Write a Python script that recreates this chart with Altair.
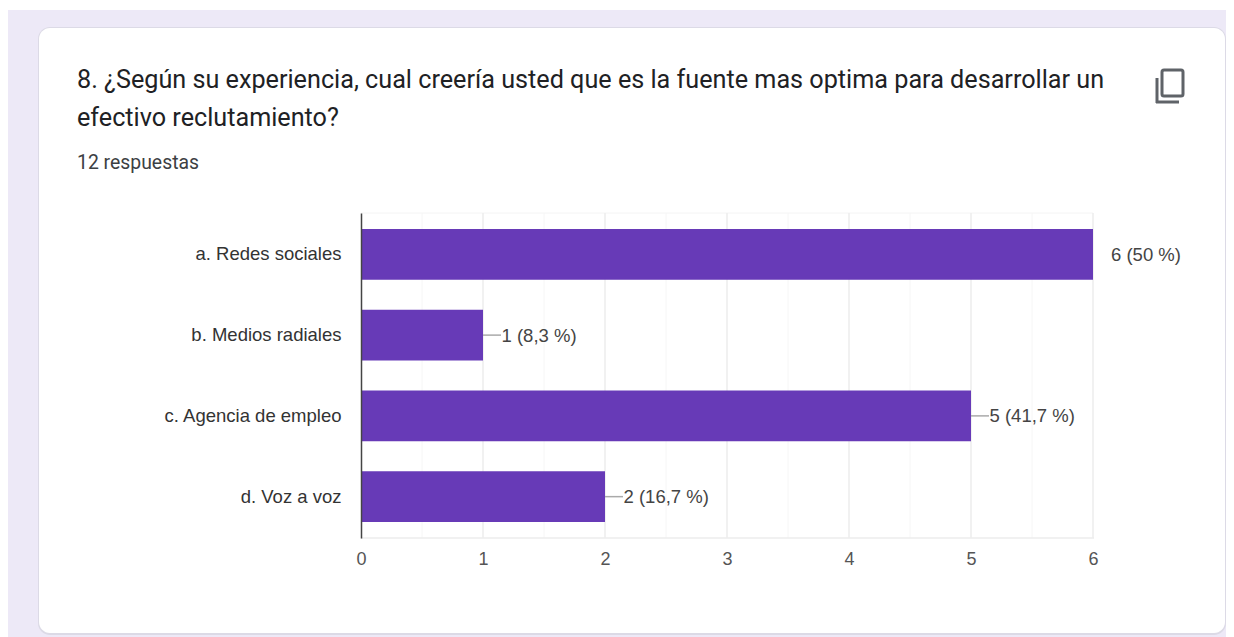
import altair as alt
import pandas as pd

categories = ["a. Redes sociales", "b. Medios radiales", "c. Agencia de empleo", "d. Voz a voz"]
counts = [6, 1, 5, 2]
labels = ["6 (50 %)", "1 (8,3 %)", "5 (41,7 %)", "2 (16,7 %)"]
leader = [False, True, True, True]
axis_ticks = [0, 1, 2, 3, 4, 5, 6]
major_ticks = [1, 2, 3, 4, 5, 6]
minor_ticks = [0.5, 1.5, 2.5, 3.5, 4.5, 5.5]
title_lines = [
    "8. ¿Según su experiencia, cual creería usted que es la fuente mas optima para desarrollar un",
    "efectivo reclutamiento?",
]
subtitle = "12 respuestas"

PW, PH = 732, 325
L, T = 353, 205   # plot origin inside the canvas
CW, CH = 1218, 629

df = pd.DataFrame({"cat": categories, "n": counts, "label": labels, "leader": leader})
xs = alt.Scale(domain=[0, 6], nice=False)
ys = alt.Scale(domain=categories, paddingInner=0.372, paddingOuter=0.198)
x_axis = alt.Axis(
    values=axis_ticks, format="d", grid=False, ticks=False, domain=False, zindex=1, title=None,
    labelFont="Liberation Sans", labelFontSize=18, labelColor="#555555", labelPadding=12, labelFlush=False)
y_axis = alt.Axis(
    grid=False, ticks=False, domain=True, domainColor="#444444", domainWidth=1.5, zindex=1, title=None,
    labelFont="Liberation Sans", labelFontSize=18.5, labelColor="#333333", labelPadding=20, labelLimit=300)
X = alt.X("n:Q", scale=xs, axis=x_axis)
Y = alt.Y("cat:N", scale=ys, sort=categories, axis=y_axis)
one = pd.DataFrame({"a": [0]})


def box(x0, x1, y0, y1, **kw):
    return alt.Chart(one).mark_rect(**kw).encode(
        x=alt.value(x0 - 361), x2=alt.value(x1 - 361),
        y=alt.value(y0 - 213), y2=alt.value(y1 - 213))


def text(s, x, y, **kw):
    return alt.Chart(pd.DataFrame({"t": [s]})).mark_text(align="left", baseline="alphabetic", **kw).encode(
        x=alt.value(x - 361), y=alt.value(y - 213), text="t:N")


def hline(x0, x1, y, color, w):
    return alt.Chart(one).mark_rule(color=color, strokeWidth=w).encode(
        x=alt.value(x0 - 361), x2=alt.value(x1 - 361), y=alt.value(y - 213))


def vline(x, y0, y1, color, w):
    return alt.Chart(one).mark_rule(color=color, strokeWidth=w).encode(
        x=alt.value(x - 361), y=alt.value(y0 - 213), y2=alt.value(y1 - 213))


page = box(8, 1226, 10, 637, color="#ede9f7")
shadow = box(38, 1226, 27, 635, color="#dcdae6", cornerRadius=12)
card = box(39, 1225, 28, 633, color="#ffffff", cornerRadius=11)

t1 = text(title_lines[0], 77, 88, font="Roboto", fontSize=25.2, color="#202124")
t2 = text(title_lines[1], 77, 126, font="Roboto", fontSize=25.2, color="#202124")
t3 = text(subtitle, 77, 169, font="Roboto", fontSize=19.4, color="#3c4043")

icon_a = box(1162, 1183, 70, 96, fill="#ffffff", stroke="#5f6368", strokeWidth=3, cornerRadius=2)
icon_b = vline(1157, 78, 103, "#5f6368", 3)
icon_c = hline(1156, 1179, 102, "#5f6368", 3)

minor = alt.Chart(pd.DataFrame({"v": minor_ticks})).mark_rule(color="#f6f6f6", strokeWidth=1).encode(
    x=alt.X("v:Q", scale=xs, axis=x_axis))
major = alt.Chart(pd.DataFrame({"v": major_ticks})).mark_rule(color="#ececec", strokeWidth=1.5).encode(
    x=alt.X("v:Q", scale=xs, axis=x_axis))
top_edge = hline(361, 1093, 213, "#f4f4f4", 1)
bottom_edge = hline(361, 1094, 538, "#ececec", 1.5)

bars = alt.Chart(df).mark_bar(color="#673ab7", opacity=1).encode(x=X, y=Y)

leaders = alt.Chart(df[df["leader"]]).mark_rule(color="#aaaaaa", strokeWidth=1.5, x2Offset=18).encode(
    x=X, x2="n:Q", y=alt.Y("cat:N", scale=ys, sort=categories, axis=y_axis, bandPosition=0.5))

lab_near = alt.Chart(df[df["leader"]]).mark_text(
    align="left", baseline="middle", dx=18.5, dy=0.5, font="Liberation Sans", fontSize=18.5, color="#444444"
).encode(x=X, y=Y, text="label:N")
lab_far = alt.Chart(df[~df["leader"]]).mark_text(
    align="left", baseline="middle", dx=18, dy=0.5, font="Liberation Sans", fontSize=18.5, color="#444444"
).encode(x=X, y=Y, text="label:N")

chart = alt.layer(
    page, shadow, card, t1, t2, t3, icon_a, icon_b, icon_c,
    top_edge, minor, major, bottom_edge, bars, leaders, lab_near, lab_far,
).properties(
    width=PW, height=PH,
    autosize=alt.AutoSizeParams(type="none"),
    padding={"left": L, "top": T, "right": CW - L - PW, "bottom": CH - T - PH},
    background="#ffffff",
).configure_view(stroke=None)

chart.save("out.html", embed_options={"renderer": "svg", "actions": False})
